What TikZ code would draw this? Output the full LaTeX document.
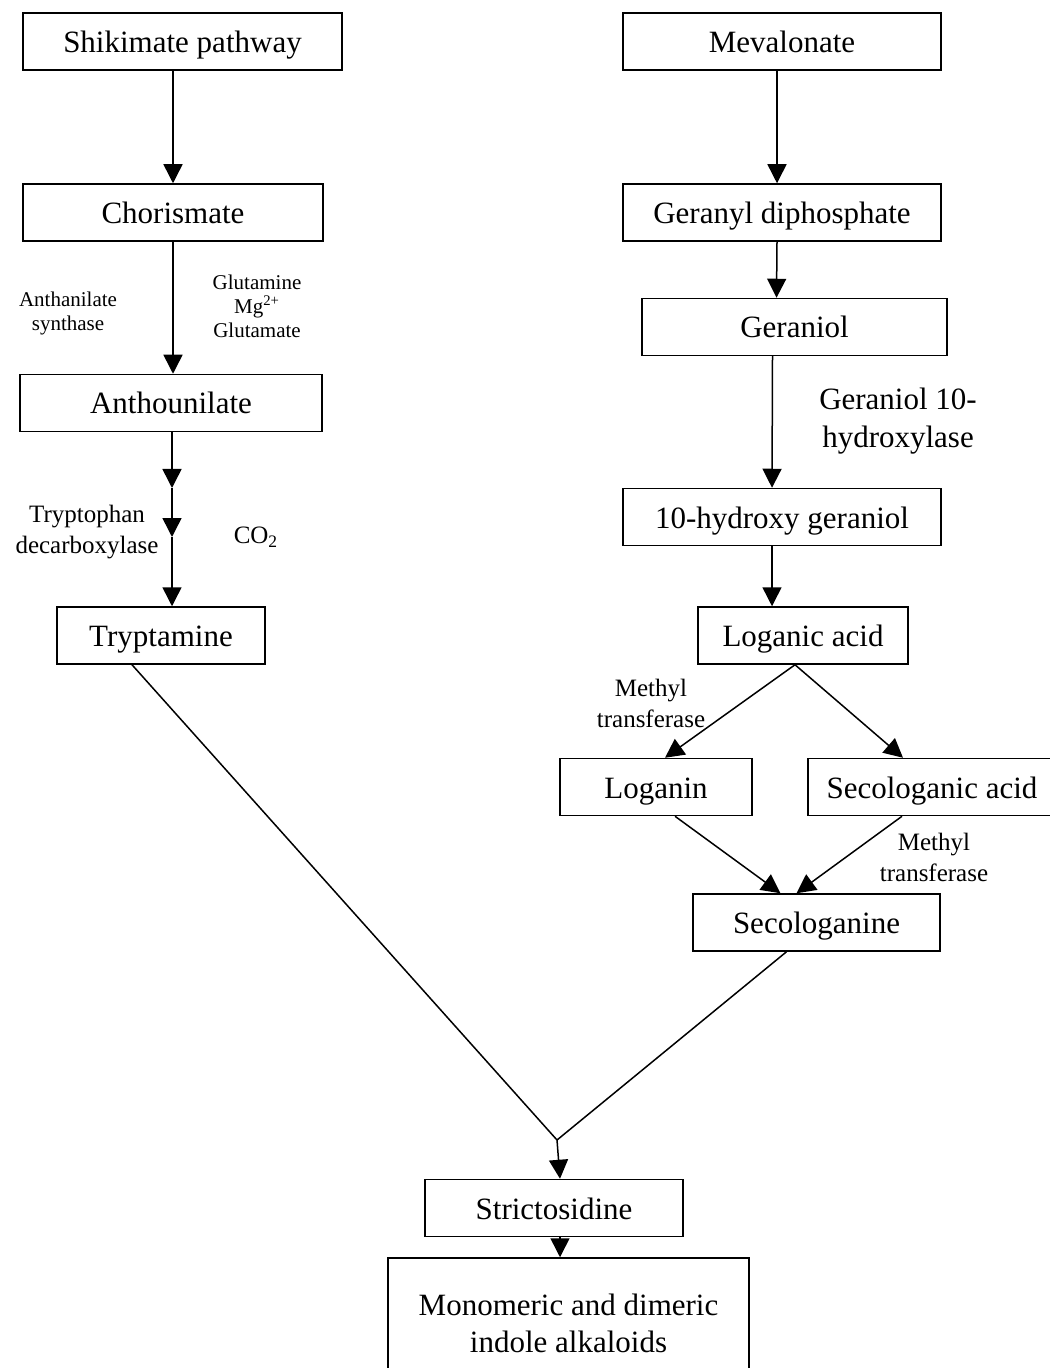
\documentclass[tikz,border=0pt]{standalone}
\usepackage{fontspec}
\setmainfont{Liberation Serif}
\usepackage{tikz}
\usetikzlibrary{arrows.meta, positioning}

\tikzset{
	box/.style={draw, line width=0.75pt, inner sep=0pt, minimum height=28.5pt, text height=12.5pt, text depth=1.5pt, align=center, font=\fontsize{15.5}{18.5}\selectfont},
	arr/.style={line width=0.75pt, -{Triangle[length=9.5pt, width=9.5pt]}},
	biglab/.style={align=center, font=\fontsize{15.5}{19}\selectfont},
	midlab/.style={align=center, font=\fontsize{12.5}{15.5}\selectfont},
	smalllab/.style={align=center, font=\fontsize{10.5}{12}\selectfont}
}

\begin{document}
\begin{tikzpicture}[x=0.5pt, y=-0.5pt]
	\useasboundingbox (0,0) rectangle (1049,1368);
	\node[box, minimum width=159.5pt] (shik) at (182.5,41.5) {Shikimate pathway};
	\node[box, minimum width=150pt] (chor) at (173,212.5) {Chorismate};
	\node[box, minimum width=151pt] (anth) at (171,403) {Anthounilate};
	\node[box, minimum width=104pt] (tryp) at (161,635.5) {Tryptamine};
	\node[box, minimum width=159pt] (meva) at (782,41.5) {Mevalonate};
	\node[box, minimum width=159pt] (gdp) at (782,212.5) {Geranyl diphosphate};
	\node[box, minimum width=152.5pt] (gerl) at (794.5,327) {Geraniol};
	\node[box, minimum width=159pt] (hger) at (782,517) {10-hydroxy geraniol};
	\node[box, minimum width=105pt] (loga) at (803,635.5) {Loganic acid};
	\node[box, minimum width=96pt] (logn) at (656,787) {Loganin};
	\node[box, minimum width=124pt] (seca) at (932,787) {Secologanic acid};
	\node[box, minimum width=123.5pt] (seco) at (816.5,922.5) {Secologanine};
	\node[box, minimum width=129pt] (stri) at (554,1208) {Strictosidine};
	\node[box, minimum width=180.5pt, minimum height=65pt, text height={}, text depth={}] (mono) at (568.5,1323) {Monomeric and dimeric\\indole alkaloids};

	\node[smalllab] (asyn) at (68,313) {Anthanilate\\synthase};
	\node[smalllab] (glut) at (257,306) {Glutamine\\Mg\textsuperscript{2+}\\Glutamate};
	\node[midlab] (tdec) at (87,532) {Tryptophan\\decarboxylase};
	\node[midlab] (co2) at (256,537) {CO\textsubscript{2}};
	\node[biglab] (g10h) at (898,421) {Geraniol 10-\\hydroxylase};
	\node[midlab] (mt1) at (651,703) {Methyl\\transferase};
	\node[midlab] (mt2) at (934,857) {Methyl\\transferase};

	\coordinate (lx) at (173,0);
	\coordinate (t1) at (172,488);
	\coordinate (t2) at (172,537);
	\coordinate (m) at (557,1140);
	\coordinate (sm) at (560,0);

	\draw[arr] (shik.south -| lx) -- (chor.north -| lx);
	\draw[arr] (chor.south -| lx) -- (anth.north -| lx);
	\draw[arr] (anth.south -| t1) -- (t1);
	\draw[arr] (t1) -- (t2);
	\draw[arr] (t2) -- (tryp.north -| t2);
	\draw[arr] ([xshift=-2.5pt]meva.south) -- ([xshift=-2.5pt]gdp.north);
	\draw[arr] ([xshift=-2.5pt]gdp.south) -- ([xshift=-9pt]gerl.north);
	\draw[arr] ([xshift=-11pt]gerl.south) -- ([xshift=-5pt]hger.north);
	\draw[arr] ([xshift=-5pt]hger.south) -- ([xshift=-15.5pt]loga.north);
	\draw[arr] ([xshift=-4pt]loga.south) -- ([xshift=4.5pt]logn.north);
	\draw[arr] ([xshift=-4pt]loga.south) -- ([xshift=-14.5pt]seca.north);
	\draw[arr] ([xshift=9.5pt]logn.south) -- ([xshift=-18pt]seco.north);
	\draw[arr] ([xshift=-15pt]seca.south) -- ([xshift=-10pt]seco.north);
	\draw[line width=0.75pt] ([xshift=-14.5pt]tryp.south) -- (m);
	\draw[line width=0.75pt] ([xshift=-15pt]seco.south) -- (m);
	\draw[arr] (m) -- (stri.north -| sm);
	\draw[arr] (stri.south -| sm) -- (mono.north -| sm);
\end{tikzpicture}
\end{document}
